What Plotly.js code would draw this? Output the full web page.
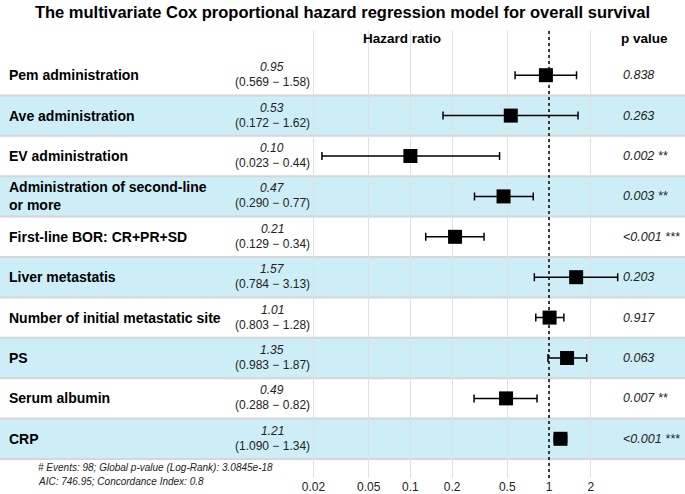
<!DOCTYPE html>
<html>
<head>
<meta charset="utf-8">
<script src="https://cdn.plot.ly/plotly-3.0.1.min.js"></script>
<style>html,body{margin:0;padding:0;background:#fff;}#chart{width:685px;height:494px;}</style>
</head>
<body>
<div id="chart"></div>
<script>
// ---- data ----
const variables = ['Pem administration','Ave administration','EV administration',
  'Administration of second-line<br>or more','First-line BOR: CR+PR+SD','Liver metastatis',
  'Number of initial metastatic site','PS','Serum albumin','CRP'];
const hazardRatio = [0.95,0.53,0.10,0.47,0.21,1.57,1.01,1.35,0.49,1.21];
const ciLower = [0.569,0.172,0.023,0.290,0.129,0.784,0.803,0.983,0.288,1.090];
const ciUpper = [1.58,1.62,0.44,0.77,0.34,3.13,1.28,1.87,0.82,1.34];
const pValues = ['0.838','0.263','0.002 **','0.003 **','<0.001 ***','0.203','0.917','0.063','0.007 **','<0.001 ***'];
const tickValues = [0.02,0.05,0.1,0.2,0.5,1,2];
const tickLabels = ['0.02','0.05','0.1','0.2','0.5','1','2'];
const footnote = ['# Events: 98; Global p-value (Log-Rank): 3.0845e-18','AIC: 746.95; Concordance Index: 0.8'];

// ---- layout helpers (pixel -> paper) ----
const W = 685, H = 494, TOP = 30, BOT = 478;
const px = x => x / W;
const py = y => (BOT - y) / (BOT - TOP);
const rowIdx = variables.map((_, i) => i);
const font = 'Liberation Sans, Arial, Helvetica, sans-serif';

const shapes = [];
rowIdx.forEach(i => {
  if (i % 2 === 1) {
    shapes.push({type:'rect', xref:'paper', yref:'y', x0:0, x1:1, y0:i-0.5, y1:i+0.5,
      fillcolor:'#cdeef6', line:{width:0}, layer:'below'});
  }
});
rowIdx.forEach(i => {
  shapes.push({type:'line', xref:'paper', yref:'y', x0:0, x1:1, y0:i+0.5, y1:i+0.5,
    line:{color:'#d6d6d6', width:2}, layer:'below'});
});

const annotations = [];
rowIdx.forEach(i => {
  annotations.push({xref:'paper', yref:'y', x:px(7), y:i, xanchor:'left', yanchor:'middle',
    text:'<b>'+variables[i]+'</b>', showarrow:false, align:'left',
    font:{family:font, size:14, color:'#000'}});
  annotations.push({xref:'paper', yref:'y', x:px(272), y:i, yshift:8, xanchor:'center', yanchor:'middle',
    text:'<i>'+hazardRatio[i].toFixed(2)+'</i>', showarrow:false,
    font:{family:font, size:12, color:'#222'}});
  annotations.push({xref:'paper', yref:'y', x:px(272), y:i, yshift:-7, xanchor:'center', yanchor:'middle',
    text:'('+ciLower[i].toFixed(3)+' \u2212 '+ciUpper[i].toFixed(2)+')', showarrow:false,
    font:{family:font, size:12, color:'#222'}});
  annotations.push({xref:'paper', yref:'y', x:px(621), y:i, xanchor:'left', yanchor:'middle',
    text:'<i>'+pValues[i]+'</i>', showarrow:false,
    font:{family:font, size:12.5, color:'#222'}});
});
annotations.push({xref:'paper', yref:'paper', x:px(402), y:py(38), xanchor:'center', yanchor:'middle',
  text:'<b>Hazard ratio</b>', showarrow:false, font:{family:font, size:13.5, color:'#000'}});
annotations.push({xref:'paper', yref:'paper', x:px(644), y:py(38), xanchor:'center', yanchor:'middle',
  text:'<b>p value</b>', showarrow:false, font:{family:font, size:13.5, color:'#000'}});
footnote.forEach((t, k) => {
  annotations.push({xref:'paper', yref:'paper', x:px(36), y:py(467 + 14*k), xanchor:'left', yanchor:'middle',
    text:'<i>'+t+'</i>', showarrow:false, font:{family:font, size:10, color:'#222'}});
});

const yRange = [(BOT - 75.2)/40.4, (TOP - 75.2)/40.4];

const traces = [
  {type:'scatter', mode:'lines', x:[1,1], y:yRange, line:{color:'#000', width:1.5, dash:'dot'},
   hoverinfo:'skip', showlegend:false},
  {type:'scatter', mode:'markers', x:hazardRatio, y:rowIdx,
   marker:{symbol:'square', size:14, color:'#000'},
   error_x:{type:'data', symmetric:false,
     array:hazardRatio.map((v,i)=>ciUpper[i]-v),
     arrayminus:hazardRatio.map((v,i)=>v-ciLower[i]),
     color:'#000', thickness:1.5, width:4},
   showlegend:false}
];

const layout = {
  width:W, height:H,
  margin:{l:0, r:0, t:TOP, b:H-BOT, pad:0},
  paper_bgcolor:'#fff', plot_bgcolor:'rgba(0,0,0,0)',
  title:{text:'<b>The multivariate Cox proportional hazard regression model for overall survival</b>',
    x:0.5, xanchor:'center', y:1-12/H, yanchor:'middle',
    font:{family:font, size:16.5, color:'#000'}},
  xaxis:{type:'log', range:[-549/138.6, (685-549)/138.6], tickvals:tickValues, ticktext:tickLabels,
    showgrid:true, gridcolor:'#e0e0e0', gridwidth:1, zeroline:false, showline:false, ticks:'',
    tickfont:{family:font, size:12, color:'#222'}, fixedrange:true},
  yaxis:{range:yRange, showgrid:false, zeroline:false, showticklabels:false, showline:false, ticks:'', fixedrange:true},
  shapes:shapes, annotations:annotations, showlegend:false
};

Plotly.newPlot('chart', traces, layout, {displayModeBar:false, staticPlot:true});
</script>
</body>
</html>
